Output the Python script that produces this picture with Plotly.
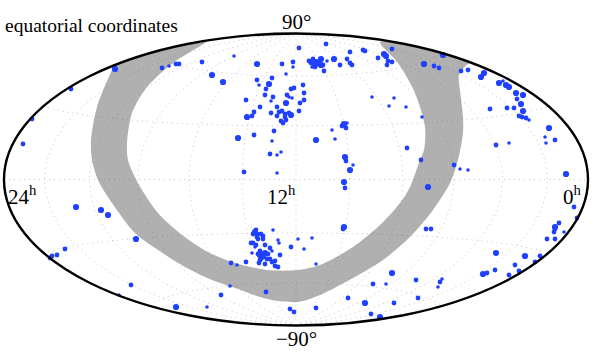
import numpy as np
import plotly.graph_objects as go

# source positions, in image-scaled map units, split by marker size
small_x = [169,234,293,286,259,271,289,292,272,277,281,277,312,327,503,372,394,389,406,422,529,347,332,335,545,546,509,353,460,468,119,207,230,237,273,278,279,298,272,255,252,312,304,316,564,442,438,386]
small_y = [66,56,67,74,85,101,97,98,141,155,152,173,67,61,81,97,98,106,107,117,120,123,130,139,137,143,143,165,169,170,295,307,286,265,230,240,243,239,251,247,253,238,249,264,232,279,287,284]

medium_x = [71,32,23,162,176,179,202,282,293,272,257,266,291,294,246,265,273,287,260,254,252,271,277,279,282,277,285,285,289,281,283,286,274,254,270,244,299,326,350,363,365,378,392,388,392,387,309,313,311,323,315,324,340,347,350,352,434,439,461,468,517,303,304,304,300,299,490,507,514,519,522,526,342,346,555,496,407,346,421,454,65,57,52,50,131,221,266,290,294,231,246,291,280,256,253,257,257,258,261,263,263,251,253,256,265,270,260,258,268,261,264,267,270,260,259,265,272,275,275,278,345,343,426,431,574,577,559,555,554,547,555,540,535,515,495,487,509,519,416,440,373,348,394,418,316,371]
medium_y = [89,119,144,68,64,64,62,64,62,78,80,89,89,88,100,95,97,95,107,112,116,113,107,112,111,116,114,117,113,121,123,120,131,135,154,172,48,44,52,50,51,58,49,61,62,65,61,59,63,65,67,71,65,59,63,65,66,68,71,70,99,85,93,100,103,111,109,108,108,116,117,118,126,128,140,145,148,161,160,165,249,255,256,258,285,295,292,309,312,263,262,247,255,230,234,234,237,239,234,236,239,243,243,245,245,248,251,254,254,259,257,259,259,260,263,264,262,261,266,267,188,229,229,229,207,218,223,229,232,239,239,256,262,265,270,273,275,271,280,282,284,298,303,298,308,314]

large_x = [115,257,212,223,269,286,247,291,238,384,386,316,321,315,318,321,334,424,443,484,481,499,506,509,516,523,521,523,344,316,549,345,350,566,76,101,108,136,176,255,260,265,344,344,428,555,496,525,483,392,365,380]
large_y = [69,64,75,82,84,103,117,115,138,54,56,62,59,65,63,65,59,64,55,73,77,83,85,87,93,95,104,111,124,140,128,157,170,174,207,210,215,239,307,232,255,253,182,227,187,227,253,256,274,273,303,317]

# gray zone: outer edge, ellipse top-right, inner edge, ellipse top-left
band_x = [115,112,97,91,92,98,112,135,158,185,212,235,267,298,320,353,383,410,433,450,458,463,463,460,459,468,473,430,400,380,398,415,425,424,420,410,400,380,353,320,298,267,235,208,182,158,138,128,127,132,147,173,207,180,150,115]
band_y = [65,70,107,140,160,180,203,233,250,267,280,288,299,302,295,278,260,237,210,183,160,133,117,90,75,64,63,50,43,42,63,93,127,150,160,187,203,225,247,265,270,270,263,252,235,213,183,160,143,113,87,63,41,46,53,65]

ra_lines = [-150, -120, -90, -60, -30, 0, 30, 60, 90, 120, 150]
dec_lines = [-60, -30, 0, 30, 60]

CX, CY, A, B = 296, 179.5, 292, 146


def hammer(lon_deg, lat_deg):
    lon = np.radians(lon_deg)
    lat = np.radians(lat_deg)
    d = np.sqrt(1 + np.cos(lat) * np.cos(lon / 2))
    x = np.cos(lat) * np.sin(lon / 2) / d
    y = np.sin(lat) / d
    return CX + A * x, CY - B * y


fig = go.Figure()

fig.add_trace(go.Scatter(x=band_x, y=band_y, mode="lines", fill="toself", fillcolor="#b0b0b0",
                         line=dict(width=0, shape="spline", smoothing=0.8), hoverinfo="skip"))

# dotted graticule
grid = dict(color="rgba(85,85,85,0.42)", width=0.8, dash="1px,4px")
for lon in ra_lines:
    lat = np.linspace(-90, 90, 121)
    gx, gy = hammer(np.full_like(lat, lon), lat)
    fig.add_trace(go.Scatter(x=gx, y=gy, mode="lines", line=grid, hoverinfo="skip"))
for d in dec_lines:
    lon = np.linspace(-180, 180, 181)
    gx, gy = hammer(lon, np.full_like(lon, d))
    fig.add_trace(go.Scatter(x=gx, y=gy, mode="lines", line=grid, hoverinfo="skip"))

blue = "#2040ff"
fig.add_trace(go.Scatter(x=small_x, y=small_y, mode="markers", marker=dict(color=blue, size=3.6)))
fig.add_trace(go.Scatter(x=medium_x, y=medium_y, mode="markers", marker=dict(color=blue, size=4.8)))
fig.add_trace(go.Scatter(x=large_x, y=large_y, mode="markers", marker=dict(color=blue, size=6.2)))

fig.add_shape(type="circle", xref="x", yref="y", x0=CX - A, x1=CX + A, y0=CY - B, y1=CY + B,
              line=dict(color="black", width=2.4))

serif = "Liberation Serif"
labels = [
    ("equatorial coordinates", 3, 25, "left", 19.5),
    ("90°", 296, 22, "center", 21),
    ("\u221290°", 296, 339, "center", 21),
    ("24<sup>h</sup>", 6, 195, "left", 21),
    ("12<sup>h</sup>", 298, 195, "right", 21),
    ("0<sup>h</sup>", 584, 195, "right", 21),
]
for text, tx, ty, anchor, size in labels:
    fig.add_annotation(x=tx, y=ty, text=text, showarrow=False, xanchor=anchor, yanchor="middle",
                       font=dict(family=serif, size=size, color="black"))

fig.update_layout(
    width=596, height=354, margin=dict(l=0, r=0, t=0, b=0),
    paper_bgcolor="white", plot_bgcolor="white", showlegend=False,
    xaxis=dict(range=[0, 596], visible=False, fixedrange=True),
    yaxis=dict(range=[354, 0], visible=False, fixedrange=True),
)

fig.write_html("out.html", config={"displayModeBar": False},
               post_script="document.body.style.margin='0';")
